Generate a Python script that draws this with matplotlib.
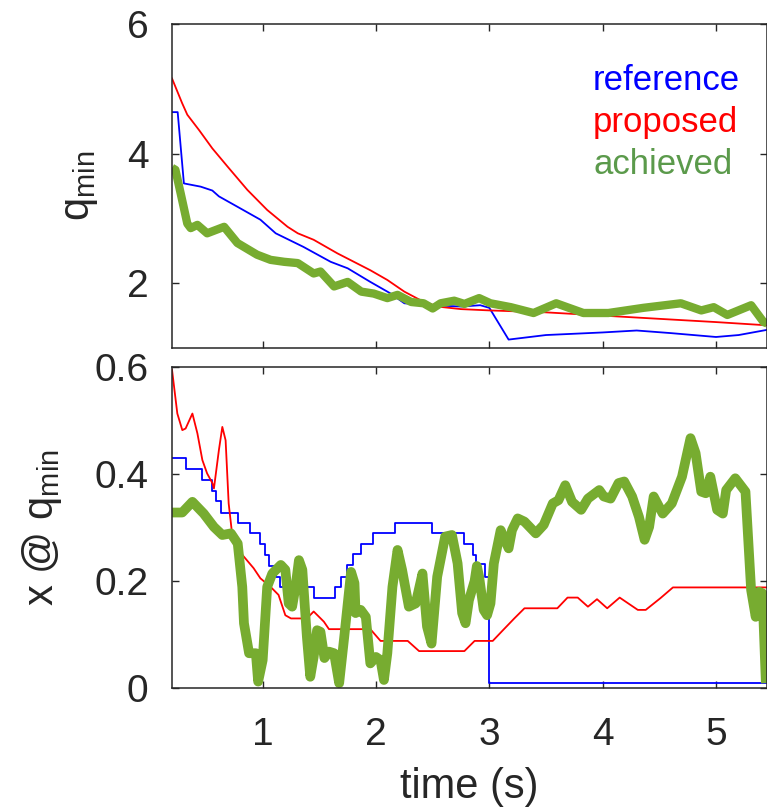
import matplotlib
matplotlib.use("Agg")
import matplotlib.pyplot as plt

plt.rcParams['font.family'] = ['Liberation Sans', 'DejaVu Sans']
plt.rcParams['mathtext.fontset'] = 'custom'
plt.rcParams['mathtext.rm'] = 'Liberation Sans'
plt.rcParams['mathtext.it'] = 'Liberation Sans:italic'

## ----------------- DATA -----------------
# top panel: q_min
t_ref_q = [0.2, 0.25, 0.305, 0.453, 0.556, 0.614, 0.777, 0.98, 1.115, 1.36, 1.60, 1.75,
           1.95, 2.13, 2.25, 2.5, 2.75, 2.92, 3.0, 3.17, 3.5, 4.0, 4.3, 4.6, 5.0, 5.2, 5.45]
q_ref = [4.64, 4.64, 3.54, 3.49, 3.43, 3.34, 3.18, 2.98, 2.77, 2.56, 2.33, 2.23,
         2.02, 1.84, 1.69, 1.66, 1.64, 1.66, 1.62, 1.13, 1.20, 1.24, 1.27, 1.23, 1.17, 1.20, 1.28]

t_prop_q = [0.2, 0.289, 0.335, 0.44, 0.556, 0.69, 0.865, 1.04, 1.22, 1.31, 1.45, 1.66,
            1.95, 2.10, 2.25, 2.39, 2.54, 2.75, 3.0, 3.5, 4.0, 4.5, 5.0, 5.45]
q_prop = [5.16, 4.78, 4.60, 4.36, 4.08, 3.80, 3.44, 3.13, 2.87, 2.77, 2.67, 2.46,
          2.20, 2.05, 1.87, 1.74, 1.64, 1.60, 1.58, 1.55, 1.50, 1.45, 1.40, 1.35]

t_ach_q = [0.2, 0.23, 0.276, 0.335, 0.365, 0.424, 0.51, 0.66, 0.777, 0.95, 1.07, 1.19,
           1.31, 1.45, 1.51, 1.63, 1.75, 1.87, 1.98, 2.10, 2.19, 2.31, 2.42, 2.50,
           2.57, 2.69, 2.78, 2.91, 3.01, 3.19, 3.39, 3.59, 3.83, 4.05, 4.36, 4.69,
           4.87, 4.98, 5.10, 5.31, 5.42, 5.45]
q_ach = [3.78, 3.75, 3.39, 2.92, 2.85, 2.90, 2.77, 2.87, 2.62, 2.44, 2.36, 2.33,
         2.31, 2.15, 2.18, 1.95, 2.02, 1.87, 1.84, 1.77, 1.82, 1.71, 1.69, 1.61,
         1.69, 1.73, 1.68, 1.77, 1.69, 1.63, 1.54, 1.69, 1.54, 1.54, 1.62, 1.69,
         1.58, 1.63, 1.51, 1.66, 1.40, 1.38]

# bottom panel: x @ q_min
t_ref_x = [0.2, 0.326, 0.462, 0.55, 0.585, 0.63, 0.785, 0.885, 0.976, 1.02, 1.06, 1.12,
           1.15, 1.45, 1.64, 1.69, 1.74, 1.80, 1.87, 1.97, 2.165, 2.49, 2.78, 2.86,
           2.88, 2.96, 3.0, 5.45]
x_ref = [0.429, 0.409, 0.389, 0.369, 0.350, 0.328, 0.309, 0.289, 0.269, 0.249, 0.228, 0.208,
         0.189, 0.169, 0.189, 0.208, 0.230, 0.250, 0.269, 0.289, 0.309, 0.289, 0.269, 0.249,
         0.231, 0.208, 0.009, 0.009]

t_prop_x = [0.2, 0.247, 0.291, 0.32, 0.38, 0.424, 0.468, 0.51, 0.556, 0.57, 0.614, 0.644,
            0.673, 0.70, 0.733, 0.82, 0.92, 0.98, 1.07, 1.14, 1.20, 1.25, 1.39, 1.45,
            1.54, 1.585, 1.95, 2.04, 2.28, 2.38, 2.78, 2.87, 3.03, 3.12, 3.22, 3.31,
            3.60, 3.69, 3.78, 3.87, 3.95, 4.04, 4.15, 4.31, 4.38, 4.51, 4.62, 5.28, 5.45]
x_prop = [0.595, 0.513, 0.482, 0.485, 0.513, 0.476, 0.426, 0.401, 0.383, 0.373, 0.445, 0.488,
          0.463, 0.345, 0.283, 0.249, 0.224, 0.205, 0.189, 0.174, 0.136, 0.130, 0.130, 0.143,
          0.124, 0.110, 0.110, 0.088, 0.088, 0.069, 0.069, 0.088, 0.088, 0.108, 0.130, 0.149,
          0.149, 0.169, 0.169, 0.152, 0.166, 0.149, 0.169, 0.146, 0.146, 0.168, 0.188, 0.188, 0.188]

t_ach_x = [0.2, 0.29, 0.38, 0.48, 0.57, 0.644, 0.72, 0.78, 0.82, 0.835, 0.88, 0.94,
           0.96, 1.0, 1.04, 1.085, 1.16, 1.20, 1.23, 1.26, 1.29, 1.32, 1.35, 1.39,
           1.42, 1.45, 1.48, 1.51, 1.545, 1.585, 1.63, 1.675, 1.72, 1.78, 1.81, 1.82,
           1.865, 1.91, 1.95, 2.0, 2.04, 2.07, 2.10, 2.145, 2.19, 2.23, 2.29, 2.35,
           2.41, 2.45, 2.49, 2.54, 2.61, 2.67, 2.72, 2.76, 2.79, 2.82, 2.87, 2.89,
           2.91, 2.95, 2.98, 3.01, 3.04, 3.10, 3.17, 3.20, 3.25, 3.31, 3.41, 3.48,
           3.56, 3.61, 3.67, 3.73, 3.81, 3.87, 3.97, 4.01, 4.07, 4.14, 4.19, 4.26,
           4.32, 4.37, 4.41, 4.45, 4.53, 4.61, 4.70, 4.775, 4.82, 4.87, 4.91, 4.95,
           5.01, 5.06, 5.09, 5.17, 5.26, 5.31, 5.35, 5.38, 5.41, 5.44]
x_ach = [0.328, 0.328, 0.348, 0.326, 0.301, 0.286, 0.289, 0.270, 0.189, 0.121, 0.065, 0.065,
         0.012, 0.052, 0.189, 0.214, 0.230, 0.221, 0.158, 0.152, 0.189, 0.239, 0.221, 0.096,
         0.021, 0.058, 0.108, 0.105, 0.056, 0.068, 0.065, 0.009, 0.096, 0.217, 0.196, 0.140,
         0.146, 0.133, 0.046, 0.058, 0.052, 0.015, 0.065, 0.189, 0.258, 0.221, 0.152, 0.158,
         0.214, 0.115, 0.083, 0.208, 0.283, 0.286, 0.233, 0.140, 0.121, 0.164, 0.200, 0.228,
         0.208, 0.146, 0.136, 0.158, 0.233, 0.295, 0.261, 0.295, 0.317, 0.311, 0.289, 0.305,
         0.345, 0.351, 0.379, 0.348, 0.333, 0.354, 0.370, 0.358, 0.354, 0.383, 0.386, 0.358,
         0.320, 0.277, 0.301, 0.358, 0.326, 0.345, 0.395, 0.467, 0.439, 0.367, 0.364, 0.395,
         0.333, 0.326, 0.370, 0.392, 0.367, 0.183, 0.133, 0.180, 0.177, 0.009]

series_names = ['reference', 'proposed', 'achieved']

## ----------------- STYLE -----------------
BLUE = '#0000ff'
RED = '#ff0000'
GREEN = '#77ac30'
GREEN_TEXT = '#5b9a4b'
DARK = '#262626'
FS = 28


def style_axes(ax):
    for s in ax.spines.values():
        s.set_color(DARK)
        s.set_linewidth(1.1)
    ax.tick_params(direction='in', length=5, width=1.0, colors=DARK,
                   top=True, right=True, labelsize=FS)
    ax.tick_params(axis='y', pad=17)
    ax.tick_params(axis='x', pad=21)


fig = plt.figure(figsize=(7.67, 8.10), dpi=100)
ax1 = fig.add_axes([172 / 767, 1 - 348 / 810, 1 - 172 / 767, 324 / 810])
ax2 = fig.add_axes([172 / 767, 1 - 688 / 810, 1 - 172 / 767, 321 / 810])

# top panel
ax1.plot(t_ref_q, q_ref, color=BLUE, lw=1.3)
ax1.plot(t_prop_q, q_prop, color=RED, lw=1.3)
ax1.plot(t_ach_q, q_ach, color=GREEN, lw=6, solid_joinstyle='round', solid_capstyle='butt')
ax1.set_xlim(0.2, 5.45)
ax1.set_ylim(1, 6)
ax1.set_xticks([1, 2, 3, 4, 5])
ax1.set_xticklabels([])
ax1.set_yticks([2, 4, 6])
style_axes(ax1)
ax1.set_ylabel(r'q$_{\mathrm{min}}$', fontsize=30, color=DARK, va='center')
ax1.yaxis.set_label_coords((80 - 172) / 595, 0.5)

for name, col, yb in zip(series_names, [BLUE, RED, GREEN_TEXT], [0.796, 0.667, 0.537]):
    ax1.text(0.7076, yb, name, color=col, fontsize=25, transform=ax1.transAxes,
             ha='left', va='baseline')

# bottom panel
ax2.plot(t_ref_x, x_ref, color=BLUE, lw=1.3, drawstyle='steps-post')
ax2.plot(t_prop_x, x_prop, color=RED, lw=1.3)
ax2.plot(t_ach_x, x_ach, color=GREEN, lw=7, solid_joinstyle='round', solid_capstyle='butt')
ax2.set_xlim(0.2, 5.45)
ax2.set_ylim(0, 0.6)
ax2.set_xticks([1, 2, 3, 4, 5])
ax2.set_yticks([0, 0.2, 0.4, 0.6])
ax2.set_yticklabels(['0', '0.2', '0.4', '0.6'])
style_axes(ax2)
ax2.set_ylabel(r'x @ q$_{\mathrm{min}}$', fontsize=30, color=DARK, va='center')
ax2.yaxis.set_label_coords((42 - 172) / 595, 0.5)
ax2.set_xlabel('time (s)', fontsize=30, color=DARK, labelpad=10)

fig.savefig('out.png', dpi=100)
